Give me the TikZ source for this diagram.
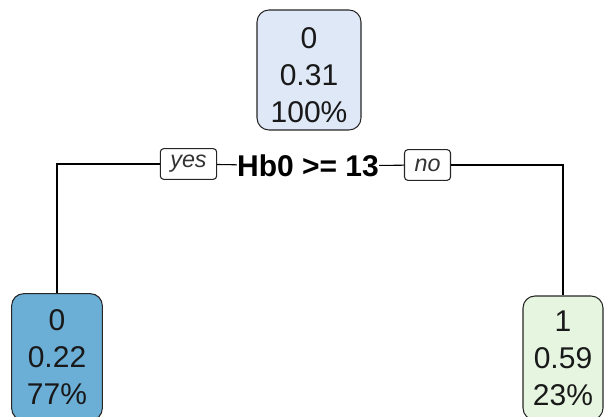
\documentclass[tikz,border=0pt]{standalone}
\usepackage{fontspec}
\setmainfont{Liberation Sans}
\usetikzlibrary{positioning}
\tikzset{>=stealth}
\definecolor{rootfill}{HTML}{DEE8F6}
\definecolor{leftfill}{HTML}{6BAED6}
\definecolor{rightfill}{HTML}{E5F5E0}
\newcommand{\topstrut}{\rule{0pt}{23pt}}
\tikzset{
  treenode/.style={draw=black!85, line width=0.8pt, rounded corners=9pt, align=center,
    font=\fontsize{22.5}{27.75}\selectfont, text=black!90, inner sep=0pt, minimum height=90pt},
  tag/.style={draw=black!85, line width=0.8pt, rounded corners=2.5pt, inner xsep=7.5pt, inner ysep=0pt,
    minimum height=23pt, font=\fontsize{17.5}{20}\selectfont\itshape, text=black!80},
  splitlabel/.style={font=\fontsize{22.5}{25}\selectfont\bfseries, inner sep=0pt}
}

\begin{document}
\begin{tikzpicture}[x=0.75pt, y=-0.75pt]
    \useasboundingbox (0,0) rectangle (606,417);
    \node[treenode, fill=rootfill, minimum width=78pt] (root) at (309,70) {\topstrut 0\\0.31\\100\%};
    \node[splitlabel] (split) at (308,166) {Hb0 >= 13};
    \node[tag] (yes) at (188.5,164) {yes};
    \node[tag] (no) at (427.5,165) {no};
    \node[treenode, fill=leftfill, minimum width=68pt, minimum height=95pt] (left) at (57,357) {0\\0.22\\77\%};
    \node[treenode, fill=rightfill, minimum width=60pt, minimum height=93pt] (right) at (563,358) {1\\0.59\\23\%};
    \draw[line width=0.8pt] (yes) -- (split) -- (no);
    \draw[line width=0.8pt] (yes.west) -| (left.north);
    \draw[line width=0.8pt] (no.east) -| (right.north);
\end{tikzpicture}
\end{document}
